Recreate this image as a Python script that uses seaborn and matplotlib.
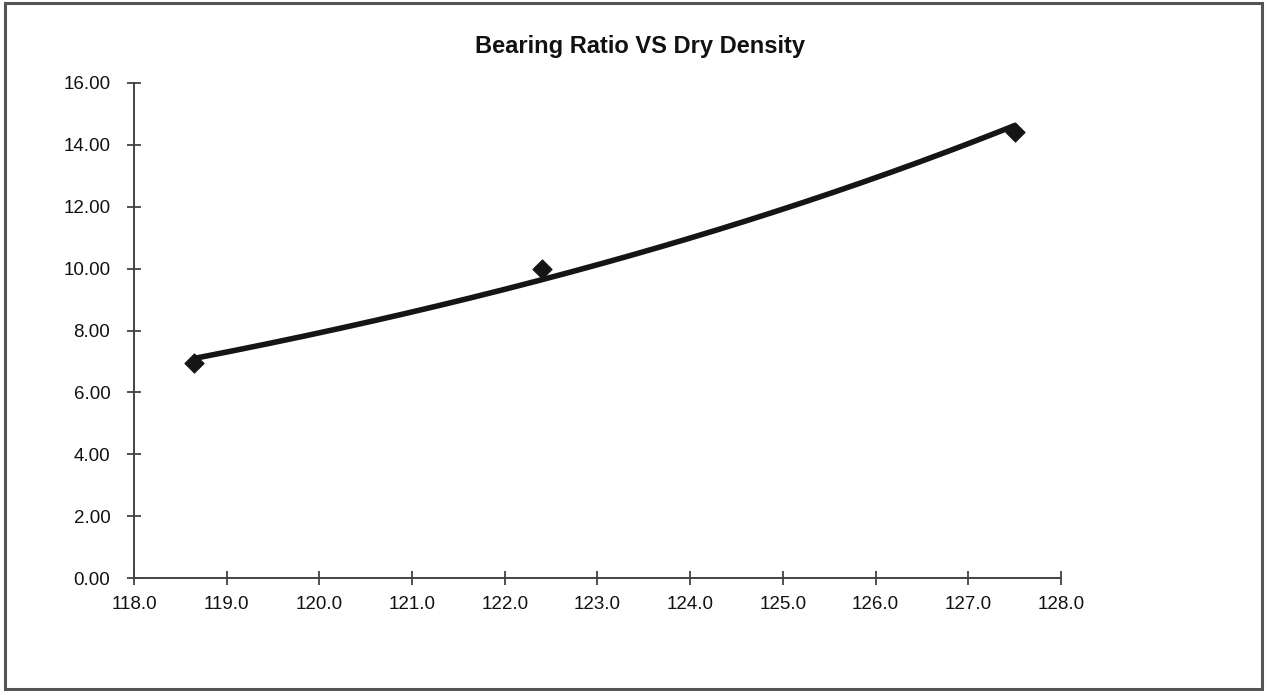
import numpy as np
import pandas as pd
import matplotlib
matplotlib.use("Agg")
import matplotlib.pyplot as plt
from matplotlib.patches import Rectangle
import seaborn as sns

# Test results: dry density (pcf) and bearing ratio
dry_density = [118.65, 122.4, 127.5]
bearing_ratio = [6.95, 10.0, 14.4]

x_ticks = [118.0, 119.0, 120.0, 121.0, 122.0, 123.0, 124.0, 125.0, 126.0, 127.0, 128.0]
y_ticks = [0.0, 2.0, 4.0, 6.0, 8.0, 10.0, 12.0, 14.0, 16.0]

df = pd.DataFrame({"Dry Density": dry_density, "Bearing Ratio": bearing_ratio})

sns.set_theme(style="white")
plt.rcParams["font.family"] = ["Liberation Sans", "DejaVu Sans"]

fig = plt.figure(figsize=(12.65, 6.91), dpi=100)
ax = fig.add_axes([0.1059, 0.1635, 0.7328, 0.7164])

# Exponential trendline fitted through the measured points
b, ln_a = np.polyfit(df["Dry Density"], np.log(df["Bearing Ratio"]), 1)
xs = np.linspace(df["Dry Density"].min(), df["Dry Density"].max(), 200)
trend = pd.DataFrame({"x": xs, "y": np.exp(ln_a + b * xs)})
sns.lineplot(data=trend, x="x", y="y", ax=ax, color="#151515", linewidth=4.0,
             zorder=3)

sns.scatterplot(data=df, x="Dry Density", y="Bearing Ratio", ax=ax, marker="D",
                s=95, color="#151515", edgecolor="#151515", zorder=4)

ax.set_xlim(118.0, 128.0)
ax.set_ylim(0.0, 16.0)
ax.set_xticks(x_ticks)
ax.set_yticks(y_ticks)
ax.set_xticklabels([f"{v:.1f}" for v in x_ticks])
ax.set_yticklabels([f"{v:.2f}" for v in y_ticks])
ax.set_xlabel("")
ax.set_ylabel("")

for side in ("top", "right"):
    ax.spines[side].set_visible(False)
for side in ("left", "bottom"):
    ax.spines[side].set_color("#444444")
    ax.spines[side].set_linewidth(1.4)
ax.tick_params(axis="both", direction="inout", length=10, width=1.2,
               color="#333333", labelsize=13.5, labelcolor="#111111",
               left=True, bottom=True)
ax.tick_params(axis="y", pad=12)
ax.tick_params(axis="x", pad=8)
ax.patch.set_alpha(0)

fig.text(0.506, 0.932, "Bearing Ratio VS Dry Density", ha="center", va="center",
         fontsize=17, fontweight="bold", color="#111111")

# Outer chart border
fig.patches.append(Rectangle((0.004, 0.003), 0.994, 0.992, transform=fig.transFigure,
                             fill=False, edgecolor="#555555", linewidth=2.2))

fig.savefig("out.png", dpi=100)
